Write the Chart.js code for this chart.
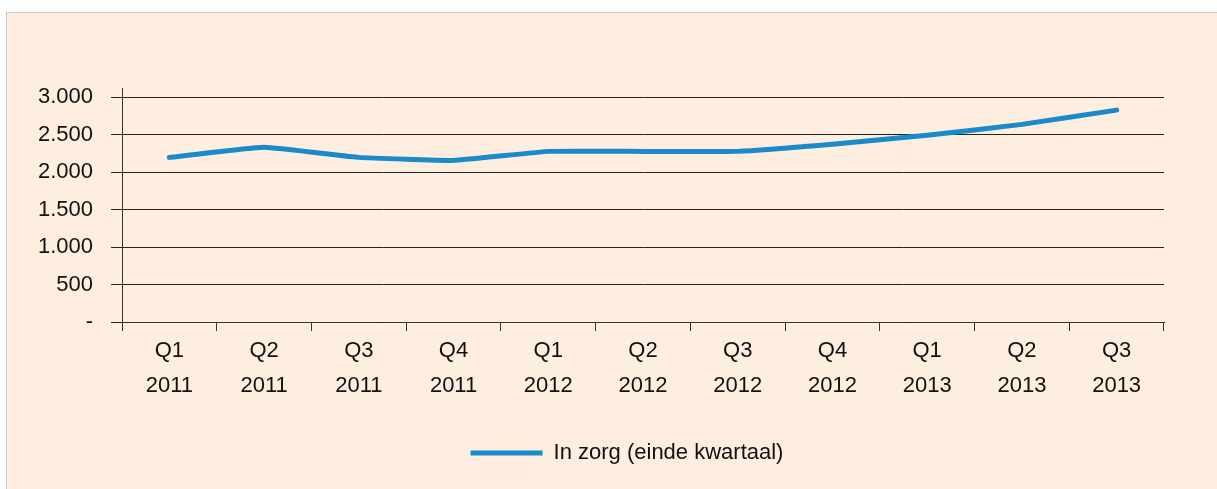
<!DOCTYPE html>
<html>
<head>
<meta charset="utf-8">
<script src="https://cdn.jsdelivr.net/npm/chart.js@4/dist/chart.umd.min.js"></script>
<style>
  html, body { margin: 0; padding: 0; background: #fff; }
  #panel {
    position: absolute; left: 6px; top: 12px; width: 1220px; height: 480px;
    background: #FDEEE0; border-left: 1px solid #c8c8c8; border-top: 1px solid #c8c8c8;
  }
  #wrap { position: absolute; left: 0; top: 0; width: 1217px; height: 489px; }
</style>
</head>
<body>
<div id="panel"></div>
<div id="wrap"><canvas id="chart" width="1217" height="489"></canvas></div>
<script>
// data
const quarters = ['Q1', 'Q2', 'Q3', 'Q4', 'Q1', 'Q2', 'Q3', 'Q4', 'Q1', 'Q2', 'Q3'];
const years = ['2011', '2011', '2011', '2011', '2012', '2012', '2012', '2012', '2013', '2013', '2013'];
const inZorg = [2195, 2330, 2195, 2155, 2275, 2275, 2275, 2370, 2490, 2635, 2825];
const seriesLabel = 'In zorg (einde kwartaal)';

const labels = quarters.map((q, i) => [q, years[i]]);
const fontFam = '"Liberation Sans", Arial, sans-serif';
const lineBlue = '#1B8ACB';

// y axis stub above the top gridline + nudge legend to the right
const axisStub = {
    id: 'axisStub',
    afterLayout(chart) {
        if (chart.legend) chart.legend.left += 90;
    },
    afterDraw(chart) {
        const { ctx, chartArea } = chart;
        ctx.save();
        ctx.strokeStyle = '#333';
        ctx.lineWidth = 1;
        ctx.beginPath();
        ctx.moveTo(chartArea.left + 0.5, chartArea.top - 9);
        ctx.lineTo(chartArea.left + 0.5, chartArea.top);
        ctx.stroke();
        ctx.restore();
    }
};

new Chart(document.getElementById('chart'), {
    type: 'line',
    data: {
        labels: labels,
        datasets: [{
            label: seriesLabel,
            data: inZorg,
            borderColor: lineBlue,
            backgroundColor: lineBlue,
            borderWidth: 5,
            borderCapStyle: 'round',
            borderJoinStyle: 'round',
            pointRadius: 0,
            tension: 0.1,
            fill: false
        }]
    },
    options: {
        responsive: false,
        animation: false,
        layout: { padding: { top: 97, right: 53, left: 0, bottom: 15 } },
        plugins: {
            legend: {
                position: 'bottom',
                labels: {
                    usePointStyle: true,
                    pointStyle: 'line',
                    pointStyleWidth: 72,
                    boxWidth: 72,
                    color: '#111',
                    padding: 10,
                    font: { family: fontFam, size: 22 }
                }
            },
            tooltip: { enabled: false }
        },
        scales: {
            x: {
                offset: true,
                grid: {
                    offset: true,
                    drawOnChartArea: false,
                    drawTicks: true,
                    tickLength: 9,
                    color: '#333'
                },
                border: { display: true, color: '#333', width: 1 },
                ticks: {
                    color: '#111',
                    padding: 2,
                    maxRotation: 0,
                    autoSkip: false,
                    font: { family: fontFam, size: 22, lineHeight: 1.6 }
                },
                afterFit(scale) { scale.height = 110; }
            },
            y: {
                min: 0,
                max: 3000,
                ticks: {
                    stepSize: 500,
                    color: '#111',
                    padding: 18,
                    font: { family: fontFam, size: 22 },
                    callback: v => v === 0 ? '-' : v.toLocaleString('nl-NL')
                },
                grid: {
                    color: '#222',
                    lineWidth: 1,
                    drawTicks: true,
                    tickLength: 11
                },
                border: { display: true, color: '#333', width: 1 },
                afterFit(scale) { scale.width = 122; }
            }
        }
    },
    plugins: [axisStub]
});
</script>
</body>
</html>
